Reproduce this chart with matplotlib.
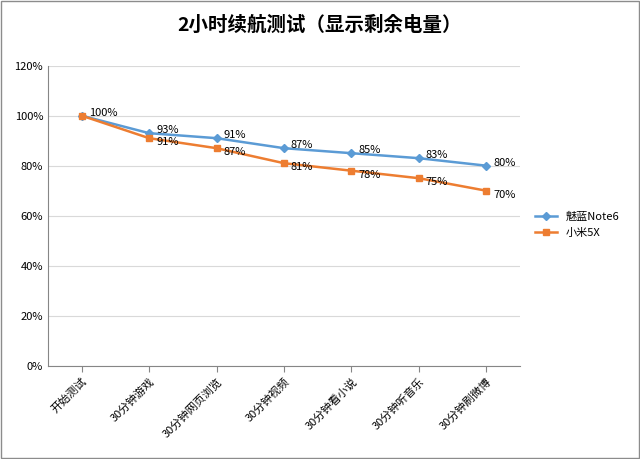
import matplotlib.pyplot as plt
from matplotlib.ticker import FuncFormatter

plt.rcParams['font.family'] = ['Noto Sans CJK SC', 'Noto Sans CJK JP', 'Noto Sans CJK TC', 'DejaVu Sans']

categories = ['开始测试', '30分钟游戏', '30分钟网页浏览', '30分钟视频',
              '30分钟看小说', '30分钟听音乐', '30分钟刷微博']
meizu = [100, 93, 91, 87, 85, 83, 80]
xiaomi = [100, 91, 87, 81, 78, 75, 70]

fig = plt.figure(figsize=(6.4, 4.59), dpi=100)
fig.patches.append(plt.Rectangle((0.002, 0.002), 0.996, 0.996, transform=fig.transFigure,
                                 fill=False, edgecolor='#8c8c8c', linewidth=1))
ax = fig.add_axes([0.075, 0.203, 0.7375, 0.654])

x = list(range(len(categories)))
ax.plot(x, meizu, color='#5b9bd5', marker='D', markersize=4, linewidth=1.8, label='魅蓝Note6')
ax.plot(x, xiaomi, color='#ed7d31', marker='s', markersize=5, linewidth=1.8, label='小米5X')

for i, v in enumerate(meizu):
    ax.annotate(f'{v}%', (i, v), xytext=(5, 2), textcoords='offset points',
                va='center', ha='left', fontsize=8)
for i, v in enumerate(xiaomi):
    if i == 0:
        continue
    ax.annotate(f'{v}%', (i, v), xytext=(5, -3), textcoords='offset points',
                va='center', ha='left', fontsize=8)

ax.set_xlim(-0.5, len(categories) - 0.5)
ax.set_ylim(0, 120)
ax.set_yticks(range(0, 121, 20))
ax.yaxis.set_major_formatter(FuncFormatter(lambda v, p: f'{int(v)}%'))
ax.set_xticks(x)
ax.set_xticklabels(categories, rotation=45, ha='right', rotation_mode='anchor', fontsize=8)
ax.tick_params(axis='y', labelsize=8, length=0)
ax.tick_params(axis='x', length=4, color='#868686')
ax.grid(axis='y', color='#d9d9d9', linewidth=0.8)
ax.set_axisbelow(True)
for s in ['top', 'right']:
    ax.spines[s].set_visible(False)
ax.spines['left'].set_color('#868686')
ax.spines['bottom'].set_color('#868686')

fig.suptitle('2小时续航测试（显示剩余电量）', fontsize=14, fontweight='bold', y=0.965)
ax.legend(loc='center left', bbox_to_anchor=(1.01, 0.47), frameon=False, fontsize=8)

fig.savefig('out.png', dpi=100)
